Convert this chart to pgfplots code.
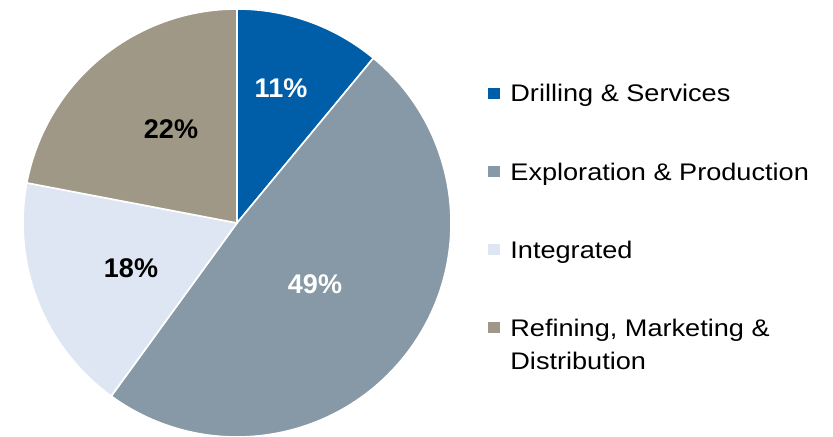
\documentclass[border=0pt]{standalone}
\usepackage{pgfplots}
\pgfplotsset{compat=1.18}
\usepackage{pgfplotstable}
\usepackage{fontspec}
\setmainfont{Liberation Sans}[FakeStretch=1.13]
\newfontfamily\labfont{Liberation Sans}
\definecolor{cDrill}{HTML}{005EA8}
\definecolor{cEP}{HTML}{8799A6}
\definecolor{cInt}{HTML}{DFE6F3}
\definecolor{cRef}{HTML}{A09886}
\pgfplotstableread{
name share
Drilling 11
Exploration 49
Integrated 18
Refining 22
}\piedata
\pgfplotstablegetelem{0}{share}\of\piedata\pgfmathsetmacro\aA{90-3.6*\pgfplotsretval}
\pgfplotstablegetelem{1}{share}\of\piedata\pgfmathsetmacro\aB{\aA-3.6*\pgfplotsretval}
\pgfplotstablegetelem{2}{share}\of\piedata\pgfmathsetmacro\aC{\aB-3.6*\pgfplotsretval}
\pgfplotstablegetelem{3}{share}\of\piedata\pgfmathsetmacro\aD{\aC-3.6*\pgfplotsretval}
\begin{document}
\begin{tikzpicture}
\begin{axis}[hide axis, scale only axis, width=416.5pt, height=218.5pt,
  xmin=0, xmax=833, ymin=0, ymax=437, clip=false]
\coordinate (bl) at (axis cs:0,0);
\coordinate (tr) at (axis cs:833,437);
% slices
\fill[cDrill, draw=white, line width=0.8pt] (axis cs:237,214) -- ++(90:107pt) arc[start angle=90, end angle=\aA, radius=107pt] -- cycle;
\fill[cEP, draw=white, line width=0.8pt] (axis cs:237,214) -- ++(\aA:107pt) arc[start angle=\aA, end angle=\aB, radius=107pt] -- cycle;
\fill[cInt, draw=white, line width=0.8pt] (axis cs:237,214) -- ++(\aB:107pt) arc[start angle=\aB, end angle=\aC, radius=107pt] -- cycle;
\fill[cRef, draw=white, line width=0.8pt] (axis cs:237,214) -- ++(\aC:107pt) arc[start angle=\aC, end angle=\aD, radius=107pt] -- cycle;
% labels
\node[font=\labfont\bfseries\fontsize{13.5}{16}\selectfont, text=white, inner sep=0] at (axis cs:281,349) {11\%};
\node[font=\labfont\bfseries\fontsize{13.5}{16}\selectfont, text=white, inner sep=0] at (axis cs:315,153) {49\%};
\node[font=\labfont\bfseries\fontsize{13.5}{16}\selectfont, text=black, inner sep=0] at (axis cs:131,169) {18\%};
\node[font=\labfont\bfseries\fontsize{13.5}{16}\selectfont, text=black, inner sep=0] at (axis cs:171,308) {22\%};
% legend
\fill[cDrill] (axis cs:488,338) rectangle (axis cs:500,349);
\fill[cEP] (axis cs:488,260) rectangle (axis cs:500,271);
\fill[cInt] (axis cs:488,182) rectangle (axis cs:500,193);
\fill[cRef] (axis cs:488,104) rectangle (axis cs:500,115);
\begin{scope}[every node/.style={font=\fontsize{12}{14}\selectfont, anchor=base west, inner sep=0}]
\node at (axis cs:510,335.3) {Drilling \& Services};
\node at (axis cs:510,256.3) {Exploration \& Production};
\node at (axis cs:510,178) {Integrated};
\node at (axis cs:510,100) {Refining, Marketing \&};
\node at (axis cs:510,67) {Distribution};
\end{scope}
\end{axis}
\pgfresetboundingbox
\path (bl) rectangle (tr);
\end{tikzpicture}
\end{document}
